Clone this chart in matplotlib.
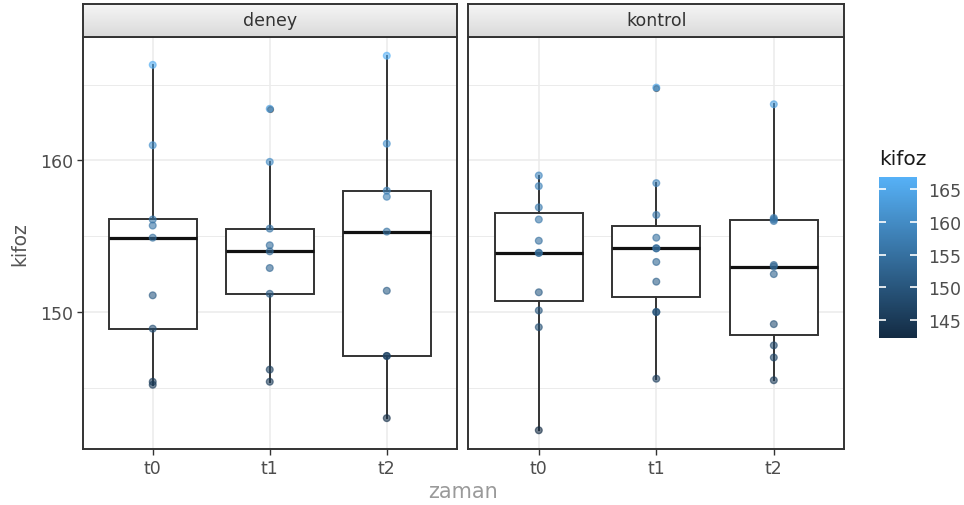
import matplotlib.pyplot as plt
import numpy as np
from matplotlib.colors import LinearSegmentedColormap, Normalize
from matplotlib.cm import ScalarMappable

# kifoz measurements per group and time
times = ['t0', 't1', 't2']
groups = ['deney', 'kontrol']

deney_t0 = [166.3, 161.0, 156.1, 155.7, 154.9, 151.1, 148.9, 145.4, 145.2]
deney_t1 = [163.4, 159.9, 155.5, 154.4, 154.0, 152.9, 151.2, 146.2, 145.4]
deney_t2 = [166.9, 161.1, 158.0, 157.6, 155.3, 151.4, 147.1, 147.1, 143.0]
kontrol_t0 = [159.0, 158.3, 156.9, 156.1, 154.7, 153.9, 153.9, 151.3, 150.1, 149.0, 142.2]
kontrol_t1 = [164.8, 158.5, 156.4, 154.9, 154.2, 154.2, 153.3, 152.0, 150.0, 150.0, 145.6]
kontrol_t2 = [163.7, 156.2, 156.1, 156.0, 153.1, 153.0, 152.5, 149.2, 147.8, 147.0, 145.5]

panel_data = {
    'deney': [deney_t0, deney_t1, deney_t2],
    'kontrol': [kontrol_t0, kontrol_t1, kontrol_t2],
}

all_vals = np.concatenate([np.array(v) for g in groups for v in panel_data[g]])
vmin, vmax = all_vals.min(), all_vals.max()
span = vmax - vmin
ylim = (vmin - 0.05 * span, vmax + 0.05 * span)

cmap = LinearSegmentedColormap.from_list('gg', ['#132B43', '#56B1F7'])
norm = Normalize(vmin=vmin, vmax=vmax)

W, H = 964, 506
fig = plt.figure(figsize=(W / 100, H / 100), dpi=100)
fig.patch.set_facecolor('white')

panel_px = [(82.5, 457), (468.3, 844.3)]
top_px, bot_px = 38, 450
strip_top = 5

border = '#333333'
grid_col = '#EBEBEB'
text_col = '#4D4D4D'

strip_grad = LinearSegmentedColormap.from_list('strip', ['#DADADA', '#F5F5F5'])

for i, g in enumerate(groups):
    x0, x1 = panel_px[i]
    ax = fig.add_axes([x0 / W, 1 - bot_px / H, (x1 - x0) / W, (bot_px - top_px) / H])
    data = panel_data[g]
    pos = np.arange(1, len(times) + 1)

    ax.boxplot(data, positions=pos, widths=0.75, patch_artist=True, showcaps=False,
               boxprops=dict(facecolor='white', edgecolor=border, linewidth=1.4),
               medianprops=dict(color='#111111', linewidth=2.3),
               whiskerprops=dict(color=border, linewidth=1.4),
               flierprops=dict(marker='o', markerfacecolor='#1A1A1A', markeredgecolor='#1A1A1A',
                               markersize=4.2, alpha=0.55),
               zorder=2)

    for p, vals in zip(pos, data):
        vals = np.array(vals)
        cols = cmap(norm(vals))
        ax.scatter(np.full(len(vals), p), vals, s=24, c=cols, edgecolors=cols,
                   linewidths=0.9, alpha=0.6, zorder=3)

    ax.set_xlim(0.4, 3.6)
    ax.set_ylim(*ylim)
    ax.set_xticks(pos)
    ax.set_xticklabels(times)
    ax.set_yticks([150, 160])
    ax.set_yticks([145, 155, 165], minor=True)
    ax.grid(True, which='major', color=grid_col, linewidth=1.1, zorder=0)
    ax.grid(True, which='minor', axis='y', color=grid_col, linewidth=0.7, zorder=0)
    ax.set_axisbelow(True)
    ax.tick_params(axis='both', which='major', length=4, width=1, color=border,
                   labelsize=12.5, labelcolor=text_col, pad=3)
    ax.tick_params(axis='y', which='minor', length=0)
    if i > 0:
        ax.tick_params(axis='y', which='major', left=False, labelleft=False)
    for s in ax.spines.values():
        s.set_color(border)
        s.set_linewidth(1.4)

    # facet strip
    sax = fig.add_axes([x0 / W, 1 - top_px / H, (x1 - x0) / W, (top_px - strip_top) / H])
    sax.imshow(np.linspace(0, 1, 50).reshape(-1, 1), cmap=strip_grad, aspect='auto',
               extent=[0, 1, 0, 1], origin='lower')
    sax.set_xticks([])
    sax.set_yticks([])
    for s in sax.spines.values():
        s.set_color(border)
        s.set_linewidth(1.4)
    sax.text(0.5, 0.5, g, ha='center', va='center', fontsize=12.5, color='#333333',
             transform=sax.transAxes)

# axis titles
fig.text(20 / W, 1 - 244 / H, 'kifoz', rotation=90, ha='center', va='center',
         fontsize=13.5, color='#555555')
fig.text(463 / W, 1 - 492 / H, 'zaman', ha='center', va='center',
         fontsize=15, color='#9A9A9A')

# colour legend
cax = fig.add_axes([879 / W, 1 - 339 / H, 38 / W, 161 / H])
sm = ScalarMappable(norm=norm, cmap=cmap)
cb = fig.colorbar(sm, cax=cax, ticks=[145, 150, 155, 160, 165])
cb.outline.set_visible(False)
cax.tick_params(direction='in', color='white', length=5, width=1.2, left=True, right=True,
                labelsize=12.5, labelcolor=text_col, pad=8)
fig.text(879 / W, 1 - 160 / H, 'kifoz', ha='left', va='center', fontsize=14.5,
         color='#1A1A1A')

fig.savefig('out.png', dpi=100)
